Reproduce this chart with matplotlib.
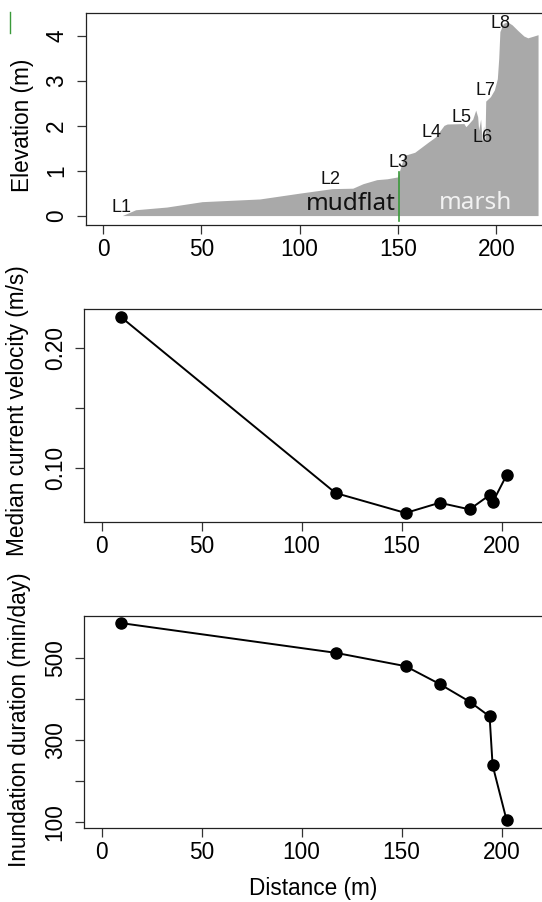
import numpy as np
import matplotlib
matplotlib.use("Agg")
import matplotlib.pyplot as plt
from matplotlib.lines import Line2D

plt.rcParams['font.family'] = ['Liberation Sans', 'DejaVu Sans']

# elevation profile along the transect
dist_elev = [9.8, 16.6, 32.4, 50.4, 79.7, 100, 116.5, 127, 132.2, 139.2,
             144.5, 149.7, 150.6, 153.2, 158.5, 165.5, 169, 173.4, 175, 183.5,
             184.5, 186, 188, 189.5, 190.5, 191, 192, 192.8, 193.5, 194.2,
             194.6, 197, 199, 200.5, 201.2, 201.8, 203.5, 205.5, 208, 211,
             214, 216, 219, 221.2]
elev = [0.0, 0.13, 0.19, 0.31, 0.37, 0.50, 0.60, 0.61, 0.71, 0.80,
        0.82, 0.86, 0.97, 1.34, 1.41, 1.64, 1.75, 2.01, 2.04, 2.05,
        1.98, 2.05, 2.15, 2.35, 2.2, 1.9, 2.15, 1.65, 2.0, 1.62,
        2.55, 2.65, 2.8, 3.05, 3.5, 4.1, 4.28, 4.32, 4.25, 4.12,
        4.0, 3.96, 4.0, 4.03]

# logger stations
station_names = ['L1', 'L2', 'L3', 'L4', 'L5', 'L6', 'L7', 'L8']
station_lab_x = [9.3, 115.9, 150.1, 166.9, 182.4, 193.1, 194.3, 201.9]
station_lab_y = [0.17, 0.80, 1.19, 1.84, 2.18, 1.75, 2.79, 4.27]

dist = [9.5, 117, 152, 169, 184, 194, 195.5, 202.5]
velocity = [0.2257, 0.079, 0.0624, 0.0709, 0.0654, 0.0773, 0.0712, 0.0939]
inundation = [585.6, 513, 480.4, 437, 394, 358, 239, 105]

W, H = 542, 902
fig = plt.figure(figsize=(W / 100, H / 100), dpi=100)

def box(l, t, r, b):
    # pixel box -> figure fraction
    return [l / W, 1 - b / H, (r - l) / W, (b - t) / H]

ax1 = fig.add_axes(box(85.7, 12.7, 553, 225))
ax2 = fig.add_axes(box(84, 309.3, 559.2, 522))
ax3 = fig.add_axes(box(84, 616, 559.2, 828.3))

fs = 16.3
for ax in (ax1, ax2, ax3):
    ax.set_xlim(-8.8, 228.8)
    ax.set_xticks([0, 50, 100, 150, 200])
    ax.tick_params(axis='both', length=6.5, width=0.9, labelsize=fs, color='#333333')
    ax.tick_params(axis='x', pad=3)
    ax.tick_params(axis='y', pad=6)
    for sp in ax.spines.values():
        sp.set_linewidth(0.9)
        sp.set_color('#222222')

# --- top: elevation
ax1.fill_between(dist_elev, elev, 0, color='#a9a9a9', lw=0)
ax1.plot([150.5, 150.5], [-0.11, 0.97], color='#3a9a3a', lw=1.2)
ax1.set_ylim(-0.21, 4.52)
ax1.set_yticks([0, 1, 2, 3, 4])
ax1.set_yticklabels(['0', '1', '2', '3', '4'], rotation=90, va='center')
for n, x, y in zip(station_names, station_lab_x, station_lab_y):
    ax1.text(x, y, n, ha='center', va='center', fontsize=13, color='#111111')
ax1.text(126.1, 0.25, 'mudflat', ha='center', va='center', fontsize=17.5,
         family='Noto Sans', color='#111111')
ax1.text(189.5, 0.29, 'marsh', ha='center', va='center', fontsize=17.5,
         family='Noto Sans', color='#f2f2f2')

# --- middle: velocity
ax2.plot(dist, velocity, color='black', lw=1.4, marker='o', ms=8)
ax2.set_ylim(0.0549, 0.2319)
ax2.set_yticks([0.10, 0.15, 0.20])
ax2.set_yticklabels(['0.10', '', '0.20'], rotation=90, va='center')

# --- bottom: inundation
ax3.plot(dist, inundation, color='black', lw=1.4, marker='o', ms=8)
ax3.set_ylim(85.3, 602.7)
ax3.set_yticks([100, 200, 300, 400, 500])
ax3.set_yticklabels(['100', '', '300', '', '500'], rotation=90, va='center')

# axis titles
fig.text(22.5 / W, 1 - 125 / H, 'Elevation (m)', rotation=90, ha='center', va='center', fontsize=fs)
fig.text(18 / W, 1 - 411 / H, 'Median current velocity (m/s)', rotation=90, ha='center', va='center', fontsize=fs)
fig.text(20 / W, 1 - 720 / H, 'Inundation duration (min/day)', rotation=90, ha='center', va='center', fontsize=fs)
fig.text(313 / W, 1 - 889 / H, 'Distance (m)', ha='center', va='center', fontsize=fs)

# small green mark left in the corner
fig.add_artist(Line2D([10 / W, 10 / W], [1 - 11.7 / H, 1 - 32.7 / H], color='#3a9a3a', lw=1))

fig.savefig('out.png', dpi=100)
